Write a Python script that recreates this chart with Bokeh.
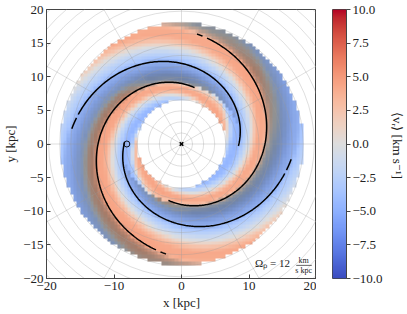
import numpy as np
from bokeh.plotting import figure
from bokeh.models import LinearColorMapper, Label, FixedTicker
from bokeh.layouts import row
from bokeh.embed import file_html
from bokeh.resources import INLINE

# ---- colour map (matplotlib "coolwarm" anchor table) ----
coolwarm_anchors = [
    (59, 76, 192), (68, 90, 204), (77, 104, 215), (87, 117, 225), (98, 130, 234),
    (108, 142, 241), (119, 154, 247), (130, 165, 251), (141, 176, 254), (152, 185, 255),
    (163, 194, 255), (174, 201, 253), (184, 208, 249), (194, 213, 244), (204, 217, 238),
    (213, 219, 230), (221, 221, 221), (229, 216, 209), (236, 211, 197), (241, 204, 185),
    (245, 196, 173), (247, 187, 160), (247, 177, 148), (247, 166, 135), (244, 154, 123),
    (241, 141, 111), (236, 127, 99), (229, 112, 88), (222, 96, 77), (213, 80, 66),
    (203, 62, 56), (192, 40, 47), (180, 4, 38)]

# ---- data ----
vr_low, vr_high = -10.0, 10.0
cell_size = 0.5                      # kpc
r_inner, r_outer = 6.6, 18.0         # kpc, extent of the map
pattern_R0, pattern_k = 8.5, 0.219   # spiral phase of the velocity pattern
psi_nodes = [0.0, 0.35, 0.7, 0.85, 1.0, 1.2, 1.35, 1.6, 1.9, 2.15, 2.4, 2.65, 2.9, np.pi]
# profile where the band outside the inner arm is reddish (brown under the shading)
vr_nodes_warm = [-4.2, -4.6, -3.2, -0.5, 2.0, 3.2, 3.9, 4.5, 4.2, 2.5, 0.0, -1.8, -3.0, -4.2]
# profile where that band is bluish
vr_nodes_cool = [-4.2, -4.6, -4.2, -3.6, -3.0, -1.2, 1.5, 4.0, 4.2, 2.5, 0.0, -1.8, -3.0, -4.2]
warm_phi = [0, 20, 45, 65, 85, 115, 140, 250, 280, 360]      # deg
warm_weight = [0.2, 0.6, 1.0, 0.6, 0.0, 0.0, 1.0, 1.0, 0.0, 0.2]
shade_psi = [0.0, 0.3, 0.6, 0.9, 1.2, 1.4, 1.5, 3.0, np.pi]
shade_alpha = [0.06, 0.12, 0.24, 0.34, 0.34, 0.2, 0.0, 0.0, 0.06]
shade_r_min = 8.8

# spiral arm lines (log spirals): R0 at phi0 [deg], k = d lnR / d phi
arm_R0 = [8.5, 8.6]
arm_phi0 = [0.0, 77.0]
arm_k = [0.219, 0.202]
arm_main = [(-2.0, 164.0), (77.0, 256.5)]
arm_dash = [(166.0, 172.0), (259.0, 262.0)]
arm_m = 2

grid_dr = 1.64
grid_rmax = 30.0
spoke_step = 30

sun_x, sun_y = [-8.1], [0.0]
gc_x, gc_y = [0.0], [0.0]

x_ticks = [-20, -10, 0, 10, 20]
y_ticks = [-20, -15, -10, -5, 0, 5, 10, 15, 20]
cb_ticks = [-10.0, -7.5, -5.0, -2.5, 0.0, 2.5, 5.0, 7.5, 10.0]

FONT = "Liberation Serif"
TOP = 9


def fmt(v, nd=0):
    s = f"{abs(v):.{nd}f}"
    return ("\u2212" + s) if v < 0 else s


# palette
anc = np.array(coolwarm_anchors, dtype=float)
pos = np.linspace(0, 1, len(anc))
palette = []
for t in np.linspace(0, 1, 256):
    r, g, b = (int(round(np.interp(t, pos, anc[:, c]))) for c in range(3))
    palette.append(f"#{r:02x}{g:02x}{b:02x}")

# field on the grid
n = int(round(40 / cell_size))
centres = -20 + cell_size * (np.arange(n) + 0.5)
X, Y = np.meshgrid(centres, centres)
R = np.hypot(X, Y)
PHI = np.arctan2(Y, X)
PHI_DEG = np.mod(np.rad2deg(PHI), 360.0)
inside = (R >= r_inner) & (R <= r_outer)
psi = np.mod(PHI - np.log(np.maximum(R, 0.1) / pattern_R0) / pattern_k, np.pi)
w = np.interp(PHI_DEG, warm_phi, warm_weight)
vr = w * np.interp(psi, psi_nodes, vr_nodes_warm) + (1 - w) * np.interp(psi, psi_nodes, vr_nodes_cool)
vr = np.where(inside, vr, np.nan)
shade = np.interp(psi, shade_psi, shade_alpha)
shade = np.where(inside & (R >= shade_r_min), shade, np.nan)

mapper = LinearColorMapper(palette=palette, low=vr_low, high=vr_high, nan_color="rgba(0,0,0,0)")
shade_pal = [f"rgba(0,0,0,{a:.3f})" for a in np.linspace(0, 1, 256)]
shade_mapper = LinearColorMapper(palette=shade_pal, low=0, high=1, nan_color="rgba(0,0,0,0)")

p = figure(frame_width=270, frame_height=269, x_range=(-20, 20), y_range=(-20, 20),
           output_backend="svg", toolbar_location=None,
           min_border_top=TOP, min_border_right=0, min_border_left=0, min_border_bottom=0)
p.grid.visible = False
p.outline_line_color = "#444444"
p.outline_line_width = 1

p.image(image=[vr], x=-20, y=-20, dw=40, dh=40, color_mapper=mapper)
p.image(image=[shade], x=-20, y=-20, dw=40, dh=40, color_mapper=shade_mapper)

# polar grid
radii = list(np.arange(grid_dr, grid_rmax, grid_dr))
p.circle(x=[0] * len(radii), y=[0] * len(radii), radius=radii, fill_color=None,
         line_color="#9a9a9a", line_alpha=0.4, line_width=0.8)
angles = list(np.deg2rad(np.arange(0, 360, spoke_step)))
p.ray(x=[0] * len(angles), y=[0] * len(angles), angle=angles, length=0,
      line_color="#9a9a9a", line_alpha=0.4, line_width=0.8)

# arms
for R0, ph0, k, mn, ds in zip(arm_R0, arm_phi0, arm_k, arm_main, arm_dash):
    for j in range(arm_m):
        rot = 360.0 * j / arm_m
        for seg in (mn, ds):
            ph = np.linspace(seg[0], seg[1], 200)
            rr = R0 * np.exp(k * np.deg2rad(ph - ph0))
            th = np.deg2rad(ph + rot)
            p.line(rr * np.cos(th), rr * np.sin(th), line_color="black", line_width=1.5)

p.scatter(sun_x, sun_y, marker="circle", size=6, fill_color=None, line_color="black", line_width=0.9)
p.scatter(gc_x, gc_y, marker="x", size=5, line_color="black", line_width=1.6)

for ax in (p.xaxis[0], p.yaxis[0]):
    ax.major_label_text_font = FONT
    ax.major_label_text_font_size = "13px"
    ax.major_label_text_color = "#222222"
    ax.axis_label_text_font = FONT
    ax.axis_label_text_font_size = "13px"
    ax.axis_label_text_font_style = "normal"
    ax.axis_label_text_color = "#222222"
    ax.major_tick_in = 4
    ax.major_tick_out = 0
    ax.minor_tick_in = 0
    ax.minor_tick_out = 0
    ax.axis_line_color = "#444444"
    ax.major_tick_line_color = "#444444"
    ax.major_label_standoff = 3
    ax.axis_label_standoff = 2
p.xaxis.ticker = FixedTicker(ticks=x_ticks)
p.yaxis.ticker = FixedTicker(ticks=y_ticks)
p.xaxis.major_label_overrides = {t: fmt(t) for t in x_ticks}
p.yaxis.major_label_overrides = {t: fmt(t) for t in y_ticks}
p.xaxis.axis_label = "x [kpc]"
p.yaxis.axis_label = "y [kpc]"

# pattern speed annotation
p.add_layout(Label(x=10.9, y=-18.6, text="\u03a9\u209a = 12", text_font=FONT,
                   text_font_size="11px", text_color="#222222"))
p.add_layout(Label(x=18.1, y=-17.95, text="km", text_font=FONT, text_font_size="8px",
                   text_align="center", text_color="#222222"))
p.add_layout(Label(x=18.1, y=-19.45, text="s kpc", text_font=FONT, text_font_size="8px",
                   text_align="center", text_color="#222222"))
p.segment(x0=[17.0], y0=[-18.05], x1=[19.3], y1=[-18.05], line_color="#222222", line_width=0.7)

# colour bar as its own small figure
cb_vals = np.linspace(vr_low, vr_high, 256).reshape(256, 1)
cb = figure(frame_width=14, frame_height=269, x_range=(0, 1), y_range=(vr_low, vr_high),
            output_backend="svg", toolbar_location=None, y_axis_location="right",
            min_border_top=TOP, min_border_left=16, min_border_right=0, min_border_bottom=10)
cb.image(image=[cb_vals], x=0, y=vr_low, dw=1, dh=vr_high - vr_low, color_mapper=mapper)
cb.grid.visible = False
cb.xaxis.visible = False
cb.outline_line_color = "#444444"
ya = cb.yaxis[0]
ya.ticker = FixedTicker(ticks=cb_ticks)
ya.major_label_overrides = {t: fmt(t, 1) for t in cb_ticks}
ya.major_label_text_font = FONT
ya.major_label_text_font_size = "13px"
ya.major_label_text_color = "#222222"
ya.major_tick_in = 0
ya.major_tick_out = 4
ya.minor_tick_in = 0
ya.minor_tick_out = 0
ya.axis_line_color = "#444444"
ya.major_tick_line_color = "#444444"
ya.major_label_standoff = 2
ya.axis_label = "\u27e8v\u1d63\u27e9 [km s\u207b\u00b9]"
ya.axis_label_text_font = FONT
ya.axis_label_text_font_size = "13px"
ya.axis_label_text_font_style = "normal"
ya.axis_label_text_color = "#222222"
ya.axis_label_standoff = 4

layout = row(p, cb)
open("out.html", "w").write(file_html(layout, INLINE))
